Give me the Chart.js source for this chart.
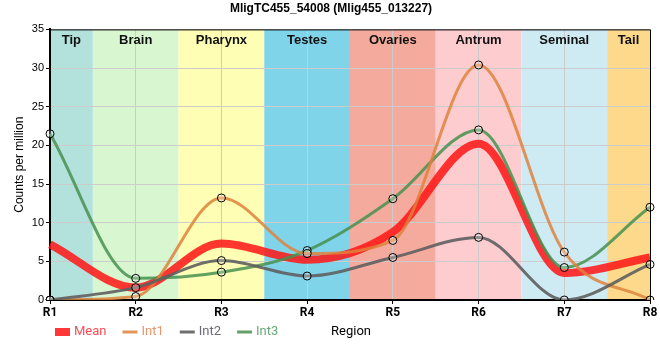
<!DOCTYPE html>
<html>
<head>
<meta charset="utf-8">
<script src="https://cdn.jsdelivr.net/npm/chart.js@4.4.1/dist/chart.umd.min.js"></script>
<style>
  html, body { margin: 0; padding: 0; background: #fff; }
  #wrap { width: 660px; height: 360px; }
</style>
</head>
<body>
<div id="wrap"><canvas id="grafico"></canvas></div>
<script>
// dados
const regioes = ["R1", "R2", "R3", "R4", "R5", "R6", "R7", "R8"];
const media = [7.2, 1.6, 7.3, 5.2, 8.8, 20.2, 3.5, 5.5];
const int1 = [0, 0.45, 13.2, 6.0, 7.7, 30.4, 6.2, 0];
const int2 = [0, 1.6, 5.1, 3.1, 5.5, 8.1, 0, 4.6];
const int3 = [21.5, 2.8, 3.6, 6.4, 13.1, 22.0, 4.2, 12.0];
const yTicks = [0, 5, 10, 15, 20, 25, 30, 35];

// faixas de tecido (início e fim em índice de região)
const faixas = ["Tip", "Brain", "Pharynx", "Testes", "Ovaries", "Antrum", "Seminal", "Tail"];
const faixaInicio = [0, 0.5, 1.5, 2.5, 3.5, 4.5, 5.5, 6.5];
const faixaFim = [0.5, 1.5, 2.5, 3.5, 4.5, 5.5, 6.5, 7];
const faixaCores = ["#b3e2dd", "#d8f6cf", "#fefeb4", "#7fd4ea", "#f4ab9d", "#fdcccf", "#ceebf4", "#fdd98b"];

// legenda: ordem, cor do texto
const legendaNomes = ["Mean", "Int1", "Int2", "Int3"];
const legendaCoresTexto = ["#ff4b57", "#e8956a", "#6b6b78", "#6aaa78"];

// plugin pra desenhar as faixas coloridas atrás da grade
const pluginFaixas = {
    id: "faixas",
    beforeDraw(chart) {
        const ctx = chart.ctx;
        const x = chart.scales.x;
        const area = chart.chartArea;
        ctx.save();
        for (let i = 0; i < faixas.length; i++) {
            let x0 = x.getPixelForValue(faixaInicio[i]);
            let x1 = x.getPixelForValue(faixaFim[i]);
            ctx.fillStyle = faixaCores[i];
            ctx.fillRect(x0, area.top, x1 - x0, area.bottom - area.top);
        }
        ctx.restore();
    },
    afterDraw(chart) {
        const ctx = chart.ctx;
        const x = chart.scales.x;
        const area = chart.chartArea;
        ctx.save();
        ctx.fillStyle = "#111";
        ctx.font = "bold 13px 'Liberation Sans', Arial, sans-serif";
        ctx.textAlign = "center";
        ctx.textBaseline = "middle";
        for (let i = 0; i < faixas.length; i++) {
            let meio = (x.getPixelForValue(faixaInicio[i]) + x.getPixelForValue(faixaFim[i])) / 2;
            ctx.fillText(faixas[i], meio, area.top + 11);
        }
        // borda de cima e da direita
        ctx.strokeStyle = "#000";
        ctx.lineWidth = 1;
        ctx.beginPath();
        ctx.moveTo(area.left, area.top + 0.5);
        ctx.lineTo(area.right + 0.5, area.top + 0.5);
        ctx.lineTo(area.right + 0.5, area.bottom);
        ctx.stroke();

        // legenda desenhada na mão, na mesma linha do título do eixo x
        const yLeg = area.bottom + 32;
        let cursor = area.left + 5;
        ctx.font = "13px Roboto, sans-serif";
        ctx.textAlign = "left";
        for (let k = 0; k < legendaNomes.length; k++) {
            const ds = chart.data.datasets.find(d => d.label === legendaNomes[k]);
            ctx.fillStyle = ds.borderColor;
            if (legendaNomes[k] === "Mean") {
                ctx.fillRect(cursor, yLeg - 4, 15, 8);
            } else {
                ctx.fillRect(cursor, yLeg - 1.5, 15, 3);
            }
            cursor += 19;
            ctx.fillStyle = legendaCoresTexto[k];
            ctx.fillText(legendaNomes[k], cursor, yLeg);
            cursor += ctx.measureText(legendaNomes[k]).width + 16;
        }
        // título do eixo x
        ctx.fillStyle = "#000";
        ctx.textAlign = "center";
        ctx.fillText("Region", 351, yLeg);
        ctx.restore();
    }
};

function serie(label, dados, cor, largura, pontos) {
    return {
        label: label,
        data: dados,
        borderColor: cor,
        backgroundColor: cor,
        borderWidth: largura,
        cubicInterpolationMode: "monotone",
        pointRadius: pontos ? 4 : 0,
        pointBorderColor: "#000",
        pointBorderWidth: 1,
        pointBackgroundColor: "rgba(255,255,255,0.25)",
        pointHoverRadius: pontos ? 4 : 0
    };
}

const ctx = document.getElementById("grafico").getContext("2d");
new Chart(ctx, {
    type: "line",
    data: {
        labels: regioes,
        datasets: [
            serie("Int2", int2, "rgba(95,95,95,0.9)", 3, true),
            serie("Int1", int1, "rgba(222,130,60,0.85)", 3, true),
            serie("Int3", int3, "rgba(70,145,80,0.85)", 3, true),
            serie("Mean", media, "rgba(255,20,20,0.85)", 8, false)
        ]
    },
    options: {
        responsive: true,
        maintainAspectRatio: false,
        animation: false,
        layout: { padding: { left: 12, right: 10, top: 0, bottom: 38 } },
        plugins: {
            title: {
                display: true,
                text: "MligTC455_54008 (Mlig455_013227)",
                color: "#000",
                font: { family: "'Liberation Sans', Arial, sans-serif", size: 12, weight: "bold" },
                padding: { top: 1, bottom: 14 }
            },
            legend: { display: false },
            tooltip: { enabled: false }
        },
        scales: {
            x: {
                offset: false,
                afterFit(scale) { scale.height = 22; },
                grid: { color: "#cccccc", tickLength: 4, tickColor: "#000" },
                border: { color: "#000", width: 2 },
                ticks: {
                    color: "#000",
                    padding: 2,
                    font: { family: "Roboto, sans-serif", size: 12, weight: "bold" }
                }
            },
            y: {
                min: 0,
                max: 35,
                afterFit(scale) { scale.width = 38; },
                afterBuildTicks(scale) { scale.ticks = yTicks.map(v => ({ value: v })); },
                grid: { color: "#cccccc", tickLength: 4, tickColor: "#000" },
                border: { color: "#000", width: 2 },
                ticks: {
                    color: "#000",
                    padding: 2,
                    font: { family: "'Liberation Sans', Arial, sans-serif", size: 11 }
                },
                title: {
                    display: true,
                    text: "Counts per million",
                    color: "#000",
                    padding: { top: 0, bottom: 2 },
                    font: { family: "'Liberation Sans', Arial, sans-serif", size: 12 }
                }
            }
        }
    },
    plugins: [pluginFaixas]
});
</script>
</body>
</html>
